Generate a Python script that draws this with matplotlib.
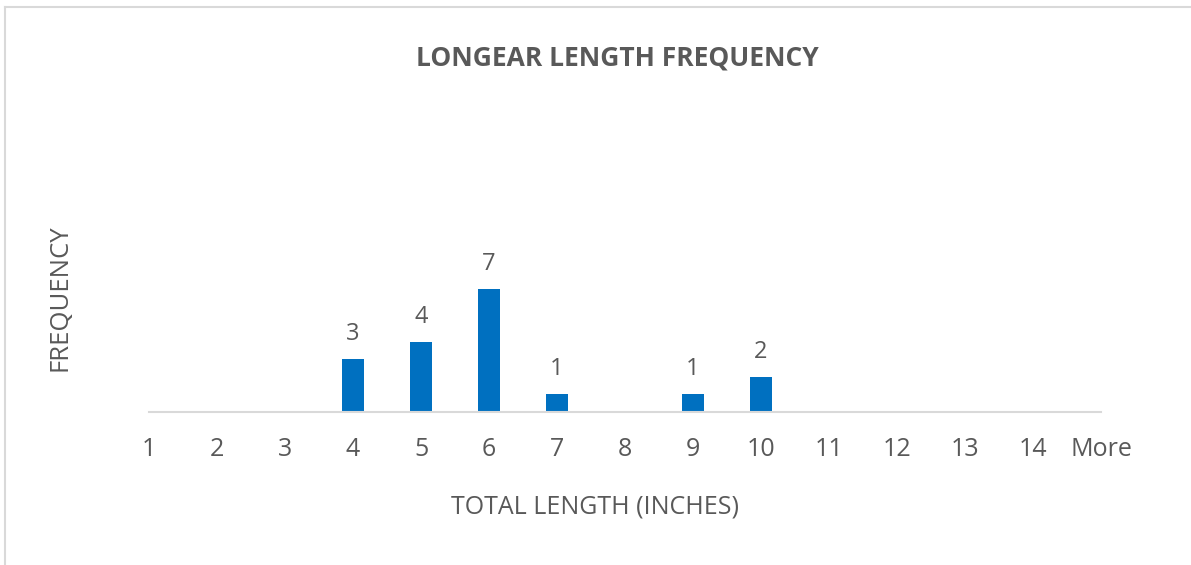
import matplotlib.pyplot as plt
from matplotlib.lines import Line2D

categories = ["1", "2", "3", "4", "5", "6", "7", "8", "9", "10", "11", "12", "13", "14", "More"]
frequency = [0, 0, 0, 3, 4, 7, 1, 0, 1, 2, 0, 0, 0, 0, 0]

plt.rcParams['font.family'] = ['Open Sans', 'DejaVu Sans']
gray = "#595959"

fig = plt.figure(figsize=(11.91, 5.65), dpi=100)
ax = fig.add_axes([149 / 1191, 153 / 565, 952 / 1191, 317 / 565])

x = list(range(len(categories)))
bars = ax.bar(x, frequency, width=0.31, color="#0070C0")
for xi, v in zip(x, frequency):
    if v > 0:
        ax.annotate(str(v), (xi, v), xytext=(0, 19), textcoords="offset pixels",
                    ha="center", va="baseline", fontsize=17, color=gray)

ax.set_xlim(0, len(categories) - 1)
ax.set_ylim(0, 18)
ax.set_xticks(x)
ax.set_xticklabels(categories, fontsize=18, color=gray)
ax.tick_params(axis="x", length=0, pad=18)
ax.set_yticks([])
for s in ["top", "right", "left"]:
    ax.spines[s].set_visible(False)
ax.spines["bottom"].set_color("#D9D9D9")
ax.spines["bottom"].set_linewidth(1.5)

fig.text(617 / 1191, 1 - 58 / 565, "LONGEAR LENGTH FREQUENCY", ha="center", va="center",
         fontsize=19, fontweight="bold", color=gray)
fig.text(595 / 1191, 1 - 507 / 565, "TOTAL LENGTH (INCHES)", ha="center", va="center",
         fontsize=18, color=gray)
fig.text(60 / 1191, 1 - 298 / 565, "FREQUENCY", ha="center", va="center", rotation=90,
         fontsize=18.5, color=gray)

# chart frame (top and left edges visible)
fig.add_artist(Line2D([5 / 1191, 1], [1 - 7 / 565, 1 - 7 / 565], transform=fig.transFigure,
                      color="#D9D9D9", lw=1.5))
fig.add_artist(Line2D([5 / 1191, 5 / 1191], [0, 1 - 7 / 565], transform=fig.transFigure,
                      color="#D9D9D9", lw=1.5))

fig.savefig("out.png", dpi=100)
